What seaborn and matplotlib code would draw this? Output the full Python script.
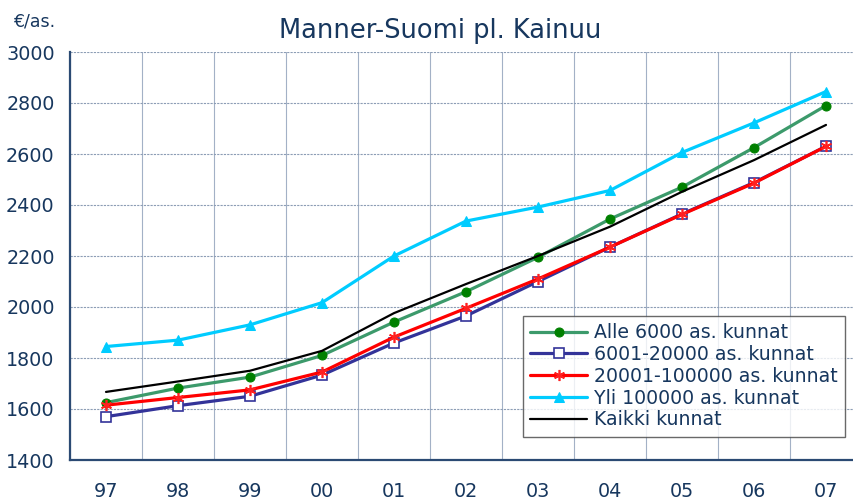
import numpy as np
import pandas as pd
import seaborn as sns
import matplotlib.pyplot as plt

# vuodet ja sarjat
years = ["97", "98", "99", "00", "01", "02", "03", "04", "05", "06", "07"]
alle_6000 = [1625, 1682, 1725, 1810, 1941, 2060, 2195, 2345, 2470, 2625, 2790]
k_6001_20000 = [1570, 1613, 1650, 1733, 1859, 1965, 2100, 2235, 2365, 2488, 2630]
k_20001_100000 = [1615, 1645, 1675, 1745, 1882, 1995, 2110, 2235, 2363, 2486, 2630]
yli_100000 = [1845, 1870, 1930, 2017, 2200, 2337, 2392, 2457, 2606, 2722, 2845]
kaikki = [1667, 1708, 1750, 1828, 1976, 2090, 2200, 2315, 2452, 2576, 2714]

sns.set_style("white")
plt.rcParams['font.family'] = ['DejaVu Sans']
navy = "#17375E"

fig = plt.figure(figsize=(8.54, 5.01), dpi=100)
ax = fig.add_axes([70 / 854, 1 - 460 / 501, 792 / 854, 408 / 501])

x = np.arange(len(years))
series = [
    ("Alle 6000 as. kunnat", alle_6000,
     dict(color="#3C9A6B", lw=2.3, marker="o", ms=6.5, mfc="#008000", mec="#008000")),
    ("6001-20000 as. kunnat", k_6001_20000,
     dict(color="#333399", lw=2.3, marker="s", ms=6.5, mfc="white", mec="#333399", mew=1.2)),
    ("20001-100000 as. kunnat", k_20001_100000,
     dict(color="#FF0000", lw=2.3, marker=(6, 2, 0), ms=8, mec="#FF2020", mew=1.2)),
    ("Yli 100000 as. kunnat", yli_100000,
     dict(color="#00CCFF", lw=2.3, marker="^", ms=7.5, mfc="#00CCFF", mec="#00CCFF")),
    ("Kaikki kunnat", kaikki, dict(color="black", lw=1.6)),
]
for name, vals, style in series:
    df = pd.DataFrame({"x": x, "y": vals})
    sns.lineplot(data=df, x="x", y="y", ax=ax, label=name, **style)

ax.set_xlim(-0.5, 10.5)
ax.set_ylim(1400, 3000)
ax.set_xticks(x)
ax.set_xticklabels(years)
ax.set_xticks(np.arange(-0.5, 11, 1), minor=True)
ax.set_yticks(np.arange(1400, 3001, 200))
ax.set_yticks(np.arange(1400, 3001, 100), minor=True)
ax.tick_params(axis="x", which="major", length=0, pad=16, labelsize=13.8, labelcolor=navy)
ax.tick_params(axis="x", which="minor", length=5, direction="out", color=navy, width=1)
ax.tick_params(axis="y", which="major", length=5, direction="out", color=navy, width=1,
               labelsize=13.8, labelcolor=navy, pad=6)
ax.tick_params(axis="y", which="minor", length=4, direction="in", color=navy, width=1)
ax.set_xlabel("")
ax.set_ylabel("")

ax.grid(True, axis="y", which="major", color="#8C9DB5", lw=0.8, ls=(0, (2, 1)))
ax.grid(True, axis="x", which="minor", color="#A3B1C6", lw=0.8)
ax.set_axisbelow(True)

for s in ["top", "right"]:
    ax.spines[s].set_visible(False)
for s in ["left", "bottom"]:
    ax.spines[s].set_color("#2B4A73")
    ax.spines[s].set_linewidth(1.6)

leg = ax.legend(loc="lower right", bbox_to_anchor=((845 - 70) / 792, (460 - 437) / 408),
                fontsize=13.6, frameon=True, fancybox=False, edgecolor="#444444",
                handlelength=3.0, handletextpad=0.35, labelspacing=0.15, borderpad=0.4,
                borderaxespad=0)
leg.get_frame().set_linewidth(1.0)
for t in leg.get_texts():
    t.set_color(navy)

fig.text(440 / 854, 1 - 31 / 501, "Manner-Suomi pl. Kainuu", ha="center", va="center",
         fontsize=18.5, color=navy)
fig.text(13 / 854, 1 - 22 / 501, "€/as.", ha="left", va="center", fontsize=12.5, color=navy)

fig.savefig("out.png", dpi=100)
